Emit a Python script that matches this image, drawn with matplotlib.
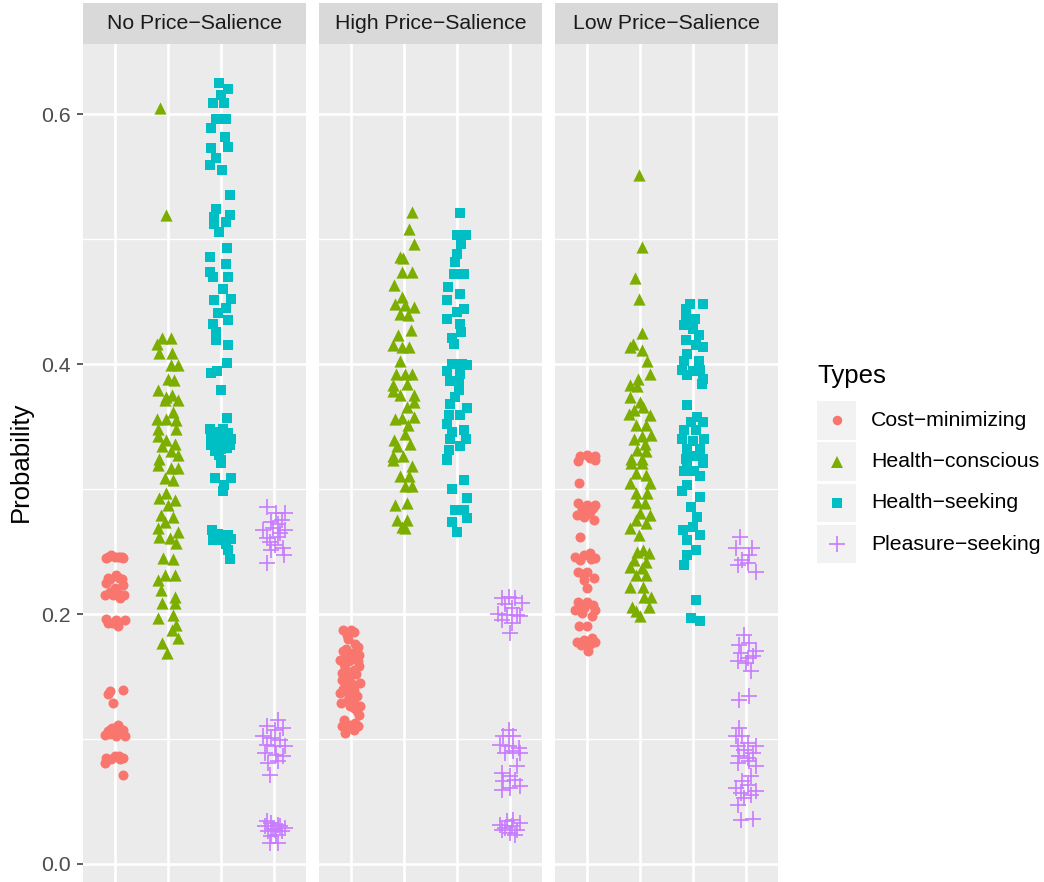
import numpy as np
import matplotlib
matplotlib.use("Agg")
import matplotlib.pyplot as plt
from matplotlib.patches import Rectangle

plt.rcParams['font.family'] = ['Liberation Sans', 'DejaVu Sans']

panels = ["No Price\u2212Salience", "High Price\u2212Salience", "Low Price\u2212Salience"]
types = ["Cost\u2212minimizing", "Health\u2212conscious", "Health\u2212seeking", "Pleasure\u2212seeking"]

# ---- No Price-Salience ----
no_cost_y = [0.245, 0.246, 0.245, 0.247, 0.246, 0.228, 0.231, 0.228, 0.225, 0.223, 0.221, 0.215, 0.215,
             0.215, 0.216, 0.193, 0.195, 0.195, 0.190, 0.196, 0.138, 0.139, 0.129, 0.111, 0.106, 0.105,
             0.107, 0.103, 0.102, 0.102, 0.109, 0.085, 0.086, 0.085, 0.081, 0.086, 0.071,
             0.246, 0.246, 0.246, 0.229, 0.229, 0.218, 0.213, 0.108, 0.108, 0.104, 0.084, 0.084,
             0.193, 0.136]
no_cost_jit = [-0.16, 0.00, 0.16, -0.08, 0.09, -0.09, 0.03, 0.13, -0.16, 0.16, 0.00, -0.19, -0.03,
               0.18, 0.08, -0.13, 0.03, 0.19, 0.06, -0.17, -0.09, 0.16, -0.03, 0.06, -0.13, 0.00,
               0.16, -0.19, 0.03, 0.19, -0.06, -0.16, 0.00, 0.16, -0.19, 0.08, 0.16,
               -0.12, 0.05, 0.13, -0.12, 0.08, -0.10, 0.10, -0.08, 0.10, -0.10, -0.08, 0.10,
               -0.05, -0.13]
no_hc_y = [0.605, 0.519, 0.421, 0.421, 0.416, 0.409, 0.409, 0.399, 0.399, 0.388, 0.387, 0.379, 0.374,
           0.375, 0.371, 0.371, 0.362, 0.356, 0.356, 0.355, 0.348, 0.348, 0.342, 0.339, 0.336, 0.334,
           0.330, 0.327, 0.324, 0.319, 0.317, 0.317, 0.309, 0.307, 0.293, 0.297, 0.291, 0.287, 0.279,
           0.278, 0.274, 0.269, 0.266, 0.262, 0.261, 0.257, 0.245, 0.244, 0.227, 0.231, 0.231, 0.219,
           0.209, 0.214, 0.209, 0.197, 0.199, 0.191, 0.187, 0.181, 0.177, 0.169]
no_hc_jit = [-0.15, -0.03, -0.11, 0.05, -0.20, -0.16, 0.08, 0.05, 0.18, 0.00, 0.11, -0.19, -0.03,
             0.08, 0.19, -0.06, 0.09, -0.20, -0.03, 0.16, -0.19, 0.16, -0.18, -0.03, 0.13, -0.11,
             0.05, 0.19, -0.16, -0.19, 0.06, 0.18, -0.06, 0.09, -0.16, -0.03, 0.13, 0.00, -0.13,
             0.09, -0.06, -0.19, 0.19, -0.16, 0.03, 0.16, -0.09, 0.09, -0.19, -0.06, 0.13, -0.14,
             -0.11, 0.13, 0.14, -0.19, 0.09, 0.16, 0.08, 0.18, -0.11, -0.01]
no_hs_y = [0.625, 0.620, 0.615, 0.609, 0.609, 0.596, 0.596, 0.589, 0.582, 0.573, 0.574, 0.565, 0.559,
           0.555, 0.535, 0.524, 0.519, 0.518, 0.514, 0.512, 0.506, 0.493, 0.486, 0.480, 0.474, 0.470,
           0.470, 0.460, 0.451, 0.452, 0.445, 0.441, 0.432, 0.435, 0.426, 0.419, 0.415, 0.401, 0.393,
           0.394, 0.379, 0.357, 0.348, 0.348, 0.340, 0.340, 0.340, 0.335, 0.332, 0.335, 0.327, 0.323,
           0.343, 0.337, 0.345, 0.330, 0.321, 0.309, 0.309, 0.303, 0.298, 0.267, 0.259, 0.263, 0.259,
           0.260, 0.251, 0.244, 0.264, 0.262, 0.338, 0.342, 0.333, 0.336, 0.346, 0.261, 0.256]
no_hs_jit = [-0.03, 0.14, -0.01, -0.16, 0.06, -0.09, 0.09, -0.19, 0.08, -0.19, 0.13, -0.09, -0.20,
             0.01, 0.16, -0.09, 0.16, -0.14, 0.09, -0.13, -0.04, 0.11, -0.20, 0.09, -0.20, -0.16,
             0.14, 0.03, -0.13, 0.19, 0.09, -0.06, -0.16, 0.13, -0.09, -0.09, 0.14, 0.11, -0.19,
             -0.08, -0.01, 0.11, -0.20, 0.03, -0.19, 0.06, 0.19, -0.19, 0.00, 0.16, -0.03, 0.00,
             -0.10, 0.10, 0.13, -0.12, 0.00, -0.11, 0.18, 0.06, 0.03, -0.17, -0.16, 0.13, 0.00,
             0.19, 0.13, 0.17, -0.05, 0.08, -0.05, 0.08, 0.12, -0.15, -0.02, -0.12, 0.10]
no_ps_y = [0.286, 0.281, 0.281, 0.274, 0.275, 0.267, 0.269, 0.267, 0.261, 0.262, 0.255, 0.253, 0.251,
           0.247, 0.241, 0.272, 0.265, 0.258, 0.115, 0.110, 0.107, 0.109, 0.102, 0.101, 0.099, 0.095,
           0.094, 0.094, 0.089, 0.087, 0.086, 0.081, 0.082, 0.071, 0.030, 0.033, 0.031, 0.029, 0.026,
           0.027, 0.026, 0.022, 0.023, 0.017, 0.017, 0.034, 0.028, 0.030]
no_ps_jit = [-0.14, 0.04, 0.20, -0.05, 0.14, -0.21, -0.02, 0.20, -0.14, 0.08, 0.01, 0.17, -0.05,
             0.19, -0.13, 0.08, 0.11, -0.08, 0.08, -0.14, 0.01, 0.17, -0.21, -0.05, 0.11, -0.14,
             0.01, 0.20, -0.18, 0.04, 0.17, -0.11, 0.08, -0.08, -0.18, -0.05, 0.08, 0.20, -0.11,
             0.01, 0.14, -0.05, 0.04, -0.08, 0.08, -0.14, -0.02, 0.11]

# ---- High Price-Salience ----
high_cost_y = [0.187, 0.187, 0.186, 0.183, 0.174, 0.170, 0.169, 0.167, 0.163, 0.162, 0.162, 0.157, 0.155,
               0.150, 0.147, 0.145, 0.142, 0.139, 0.137, 0.135, 0.134, 0.129, 0.126, 0.126, 0.125, 0.119,
               0.110, 0.111, 0.110, 0.105, 0.107, 0.180, 0.176, 0.172, 0.165, 0.160, 0.158, 0.152,
               0.148, 0.144, 0.140, 0.132, 0.130, 0.122, 0.115, 0.113, 0.168, 0.153]
high_cost_jit = [-0.14, 0.00, 0.05, -0.08, 0.13, -0.14, 0.02, 0.16, -0.20, -0.04, 0.13, -0.11, 0.05,
                 -0.01, -0.17, 0.18, -0.08, 0.05, -0.20, -0.04, 0.11, -0.19, -0.01, 0.18, 0.05, 0.16,
                 -0.17, -0.01, 0.13, -0.11, 0.05, -0.05, 0.08, -0.10, 0.05, -0.12, 0.15, 0.10,
                 -0.06, 0.03, -0.15, 0.06, -0.08, 0.12, -0.12, 0.07, -0.08, -0.16]
high_hc_y = [0.522, 0.508, 0.496, 0.486, 0.485, 0.474, 0.474, 0.463, 0.454, 0.448, 0.447, 0.446, 0.440,
             0.439, 0.427, 0.423, 0.415, 0.414, 0.414, 0.402, 0.392, 0.392, 0.392, 0.383, 0.384, 0.375,
             0.375, 0.378, 0.366, 0.370, 0.356, 0.357, 0.358, 0.351, 0.344, 0.339, 0.336, 0.334, 0.326,
             0.326, 0.323, 0.318, 0.310, 0.310, 0.302, 0.302, 0.287, 0.289, 0.275, 0.275, 0.270, 0.269]
high_hc_jit = [0.16, 0.10, 0.19, -0.08, -0.01, -0.03, 0.16, -0.19, -0.04, -0.17, 0.02, 0.18, -0.08,
               0.08, 0.14, -0.11, -0.20, -0.04, 0.10, -0.08, -0.15, 0.02, 0.16, -0.20, 0.06, -0.08,
               0.18, -0.20, 0.05, 0.18, -0.17, -0.03, 0.19, 0.08, 0.02, -0.19, 0.11, -0.14, -0.20,
               -0.01, -0.20, 0.16, -0.08, 0.10, 0.02, 0.16, -0.17, 0.05, -0.13, 0.05, -0.04, 0.02]
high_hs_y = [0.521, 0.503, 0.503, 0.496, 0.488, 0.482, 0.472, 0.472, 0.462, 0.456, 0.451, 0.444, 0.442,
             0.436, 0.432, 0.426, 0.421, 0.416, 0.400, 0.400, 0.399, 0.394, 0.392, 0.386, 0.386, 0.379,
             0.374, 0.368, 0.365, 0.359, 0.359, 0.352, 0.347, 0.346, 0.340, 0.340, 0.334, 0.331, 0.324,
             0.323, 0.307, 0.300, 0.293, 0.283, 0.283, 0.274, 0.277, 0.266]
high_hs_jit = [0.06, -0.01, 0.16, 0.08, 0.00, -0.03, -0.06, 0.14, -0.17, 0.06, -0.18, 0.14, 0.00,
               -0.19, 0.06, 0.08, -0.09, -0.06, -0.09, 0.09, 0.19, -0.19, 0.06, -0.13, 0.03, 0.03,
               -0.03, -0.13, 0.19, -0.16, 0.06, -0.19, 0.13, -0.09, -0.14, 0.16, 0.06, -0.16, -0.19,
               -0.18, 0.14, -0.09, 0.19, -0.03, 0.13, -0.09, 0.18, -0.01]
high_ps_y = [0.213, 0.214, 0.213, 0.209, 0.208, 0.205, 0.200, 0.199, 0.199, 0.198, 0.195, 0.193, 0.185,
             0.107, 0.102, 0.102, 0.095, 0.094, 0.093, 0.089, 0.090, 0.089, 0.078, 0.073, 0.070, 0.066,
             0.067, 0.062, 0.059, 0.061, 0.031, 0.034, 0.035, 0.033, 0.029, 0.030, 0.027, 0.025, 0.023,
             0.027]
high_ps_jit = [-0.16, -0.03, 0.09, 0.22, -0.09, 0.03, -0.22, -0.06, 0.13, 0.19, -0.16, 0.03, 0.00,
               -0.03, -0.13, 0.06, -0.19, -0.03, 0.16, -0.09, 0.06, 0.19, 0.13, -0.16, 0.00, -0.13,
               0.09, 0.19, -0.16, 0.00, -0.19, -0.06, 0.06, 0.19, -0.09, 0.03, 0.13, 0.00, 0.09,
               -0.16]

# ---- Low Price-Salience ----
low_cost_y = [0.326, 0.327, 0.326, 0.322, 0.323, 0.305, 0.289, 0.287, 0.287, 0.279, 0.282, 0.278, 0.275,
              0.262, 0.246, 0.247, 0.245, 0.243, 0.234, 0.234, 0.227, 0.229, 0.221, 0.210, 0.210, 0.203,
              0.203, 0.198, 0.201, 0.190, 0.190, 0.178, 0.179, 0.178, 0.170, 0.175,
              0.284, 0.285, 0.280, 0.249, 0.244, 0.232, 0.207, 0.205, 0.176, 0.181, 0.325]
low_cost_jit = [-0.13, 0.00, 0.16, -0.16, 0.16, -0.14, -0.16, 0.00, 0.16, -0.19, 0.06, -0.06, 0.14,
                -0.13, -0.22, -0.06, 0.16, -0.13, -0.16, 0.00, -0.06, 0.13, 0.00, -0.16, 0.00, -0.22,
                0.16, 0.09, -0.09, -0.14, 0.00, -0.19, -0.06, 0.16, 0.03, -0.11,
                -0.10, 0.12, 0.00, 0.05, 0.08, -0.08, 0.12, -0.05, 0.06, 0.10, 0.05]
low_hc_y = [0.551, 0.494, 0.469, 0.452, 0.425, 0.416, 0.414, 0.411, 0.402, 0.392, 0.388, 0.383, 0.382,
            0.374, 0.370, 0.366, 0.363, 0.360, 0.359, 0.351, 0.351, 0.343, 0.342, 0.340, 0.336, 0.331,
            0.330, 0.324, 0.324, 0.321, 0.321, 0.313, 0.311, 0.305, 0.305, 0.297, 0.297, 0.290, 0.289,
            0.281, 0.279, 0.275, 0.273, 0.269, 0.263, 0.251, 0.250, 0.249, 0.243, 0.242, 0.238, 0.237,
            0.231, 0.231, 0.222, 0.222, 0.214, 0.214, 0.206, 0.206, 0.202, 0.198]
low_hc_jit = [-0.02, 0.03, -0.09, -0.02, 0.03, -0.13, -0.19, 0.03, 0.14, 0.18, -0.03, -0.18, -0.05,
              -0.19, 0.01, 0.06, -0.11, -0.21, 0.18, -0.08, 0.12, 0.20, 0.03, -0.11, 0.09, -0.05,
              0.12, -0.16, 0.03, -0.16, 0.03, -0.08, 0.11, -0.18, 0.18, -0.08, 0.14, -0.05, 0.09,
              0.01, 0.18, -0.08, 0.11, -0.19, -0.02, 0.06, -0.05, 0.17, -0.11, 0.11, -0.19, 0.03,
              -0.08, 0.12, -0.18, 0.06, 0.08, 0.20, -0.15, 0.17, -0.08, 0.01]
low_hs_y = [0.448, 0.448, 0.444, 0.436, 0.436, 0.431, 0.428, 0.423, 0.419, 0.415, 0.414, 0.408, 0.402,
            0.402, 0.395, 0.394, 0.395, 0.391, 0.388, 0.384, 0.367, 0.358, 0.354, 0.354, 0.347, 0.347,
            0.340, 0.340, 0.338, 0.332, 0.332, 0.326, 0.324, 0.324, 0.321, 0.321, 0.314, 0.314, 0.310,
            0.303, 0.298, 0.294, 0.286, 0.278, 0.267, 0.270, 0.263, 0.259, 0.251, 0.247, 0.239, 0.211,
            0.197, 0.194]
low_hs_jit = [-0.06, 0.18, -0.13, -0.14, 0.04, -0.17, -0.01, 0.11, -0.14, 0.05, 0.18, -0.11, -0.17,
              0.11, -0.21, -0.01, 0.14, -0.11, 0.18, 0.16, -0.11, 0.08, -0.03, 0.18, -0.17, 0.05,
              0.21, -0.20, -0.01, -0.11, 0.14, -0.01, 0.18, -0.14, -0.11, 0.18, -0.17, 0.02, 0.14,
              -0.11, -0.20, 0.13, -0.04, 0.08, -0.19, -0.01, 0.14, -0.11, 0.05, -0.11, -0.17, 0.05,
              -0.03, 0.13]
low_ps_y = [0.262, 0.253, 0.253, 0.247, 0.243, 0.239, 0.241, 0.234, 0.183, 0.175, 0.177, 0.170, 0.169,
            0.165, 0.166, 0.162, 0.161, 0.154, 0.131, 0.134, 0.109, 0.102, 0.102, 0.097, 0.094, 0.094,
            0.091, 0.089, 0.086, 0.085, 0.081, 0.082, 0.078, 0.070, 0.066, 0.061, 0.063, 0.058, 0.057,
            0.055, 0.053, 0.047, 0.035, 0.036]
low_ps_jit = [-0.11, -0.19, 0.11, 0.06, -0.07, -0.16, 0.03, 0.18, -0.04, -0.13, 0.06, 0.18, -0.10,
              0.03, 0.12, -0.16, -0.01, 0.09, -0.13, 0.06, -0.13, -0.19, -0.07, 0.03, 0.18, -0.16,
              -0.04, 0.12, -0.13, 0.03, -0.16, 0.06, 0.18, 0.09, -0.07, -0.19, 0.03, 0.18, -0.10,
              0.09, -0.04, -0.16, -0.10, 0.12]

data = [
    [(no_cost_y, no_cost_jit), (no_hc_y, no_hc_jit), (no_hs_y, no_hs_jit), (no_ps_y, no_ps_jit)],
    [(high_cost_y, high_cost_jit), (high_hc_y, high_hc_jit), (high_hs_y, high_hs_jit), (high_ps_y, high_ps_jit)],
    [(low_cost_y, low_cost_jit), (low_hc_y, low_hc_jit), (low_hs_y, low_hs_jit), (low_ps_y, low_ps_jit)],
]

colors = ["#F8766D", "#7CAE00", "#00BFC4", "#C77CFF"]
markers = ["o", "^", "s", "+"]
msizes = [7.2, 8.8, 7.4, 11.5]

W, H = 1044, 882
fig = plt.figure(figsize=(W / 100, H / 100), dpi=100)

def px_box(x0, y0, x1, y1):
    return [x0 / W, 1 - y1 / H, (x1 - x0) / W, (y1 - y0) / H]

panel_left = [83, 319, 555]
pw = 223
small = 15.3
big = 18.5

for p in range(3):
    ax = fig.add_axes(px_box(panel_left[p], 44, panel_left[p] + pw, 884))
    ax.set_facecolor("#EBEBEB")
    ax.set_xlim(0.4, 4.6)
    ax.set_ylim(-0.016, 0.656)
    ax.set_yticks([0.0, 0.2, 0.4, 0.6])
    ax.set_yticks([0.1, 0.3, 0.5], minor=True)
    ax.set_xticks([1, 2, 3, 4])
    ax.set_xticklabels([])
    ax.grid(True, which="major", color="white", lw=1.9)
    ax.grid(True, which="minor", axis="y", color="white", lw=0.95)
    ax.set_axisbelow(True)
    for s in ax.spines.values():
        s.set_visible(False)
    ax.tick_params(axis="y", which="minor", length=0)
    ax.tick_params(axis="both", which="major", length=4.3, width=1.1, color="#333333",
                   labelsize=small, labelcolor="#4D4D4D", pad=4.3)
    if p == 0:
        ax.set_yticklabels(["0.0", "0.2", "0.4", "0.6"])
    else:
        ax.tick_params(axis="y", which="major", length=0, labelleft=False)

    for k in range(4):
        yv, jit = data[p][k]
        xs = (k + 1) + np.array(jit)
        if markers[k] == "+":
            ax.scatter(xs, yv, marker="+", color=colors[k], s=msizes[k] ** 2, linewidths=1.2, zorder=3)
        else:
            ax.scatter(xs, yv, marker=markers[k], color=colors[k], s=msizes[k] ** 2,
                       linewidths=0, zorder=3)

    # strip
    sax = fig.add_axes(px_box(panel_left[p], 3, panel_left[p] + pw, 44))
    sax.set_facecolor("#D9D9D9")
    sax.set_xticks([])
    sax.set_yticks([])
    for s in sax.spines.values():
        s.set_visible(False)
    sax.text(0.5, 0.5, panels[p], ha="center", va="center", fontsize=small, color="#1A1A1A",
             transform=sax.transAxes)

fig.text(21 / W, 1 - 462 / H, "Probability", rotation=90, ha="center", va="center",
         fontsize=big, color="black")

# legend
lax = fig.add_axes([0, 0, 1, 1], facecolor="none")
lax.set_xlim(0, W)
lax.set_ylim(H, 0)
lax.axis("off")
lax.text(817, 376, "Types", ha="left", va="center", fontsize=big, color="black")
row0 = 401
pitch = 41.3
for k in range(4):
    top = row0 + k * pitch
    lax.add_patch(Rectangle((817, top), 39, 38.5, facecolor="#F2F2F2", edgecolor="none"))
    cy = top + 19.25
    if markers[k] == "+":
        lax.plot([836.5], [cy], marker="+", color=colors[k], ms=msizes[k] * 0.95, mew=1.2)
    else:
        lax.plot([836.5], [cy], marker=markers[k], color=colors[k], ms=msizes[k] * 0.95, mew=0)
    lax.text(871, cy, types[k], ha="left", va="center", fontsize=small, color="black")

fig.savefig("out.png", dpi=100)
